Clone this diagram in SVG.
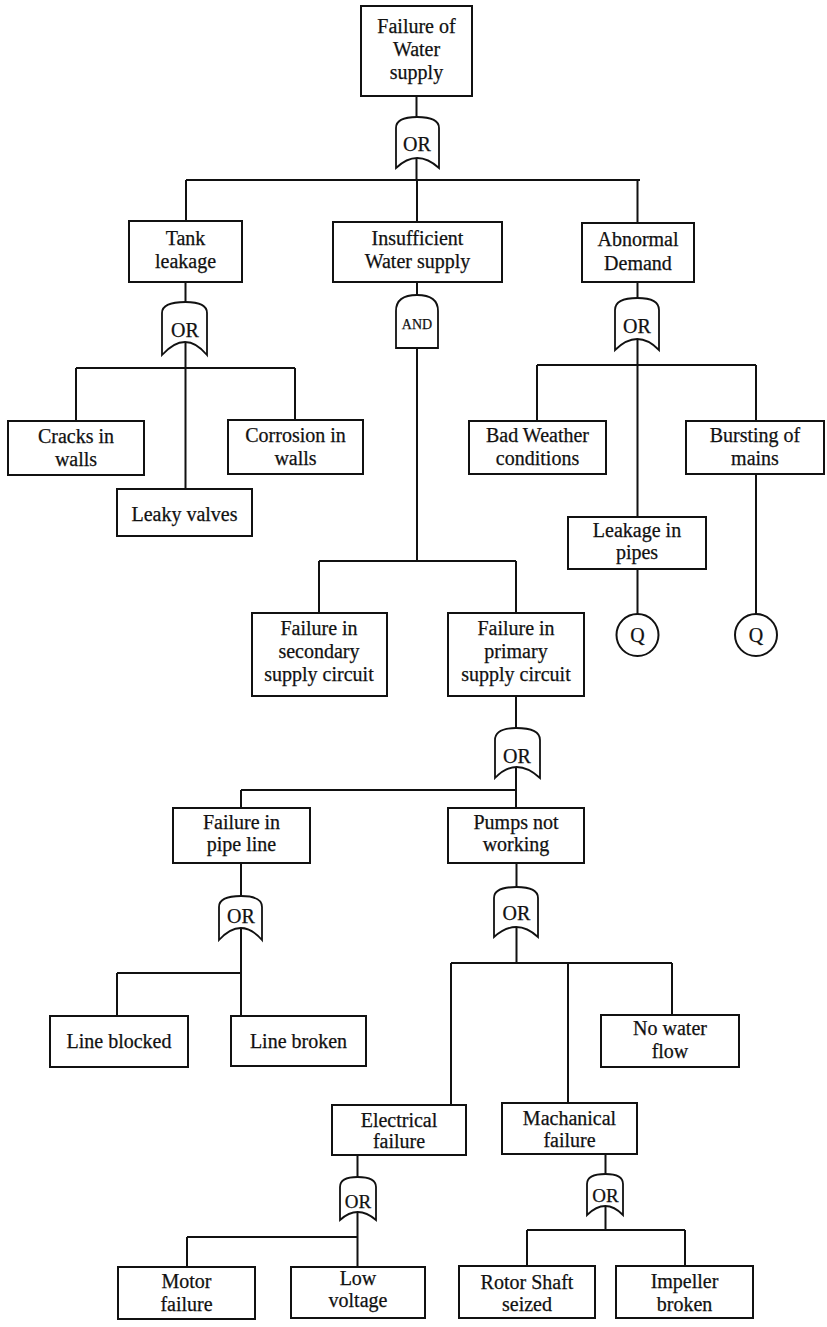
<svg xmlns="http://www.w3.org/2000/svg" width="827" height="1327" viewBox="0 0 827 1327">
<style>
.box{fill:#fff;stroke:#111;stroke-width:2}
.gate{fill:#fff;stroke:#111;stroke-width:1.8}
.ln{fill:none;stroke:#111;stroke-width:2}
text{font-family:"Liberation Serif","Times New Roman",serif;font-size:20px;fill:#111;text-anchor:middle;stroke:#111;stroke-width:0.25}
.g{font-size:20px}
.gs{font-size:19px}
.and{font-size:14px}
</style>
<rect width="827" height="1327" fill="#fff"/>
<g id="connectors" class="ln">
<path d="M416.5 96V117M416.5 158V180M186 180H640M186 180V221M417 180V222M637.5 180V223"/>
<path d="M185.5 282V302M185.5 342V489M76 368H295M76 368V421M295 368V420"/>
<path d="M417 282V295M417 348V561M319 561H516M319 561V613M516 561V613"/>
<path d="M637.5 282V298M637.5 339V517M537 365H756M537 365V421M756 365V421M756 474V614M637.5 569V614"/>
<path d="M516 696V728M516 767V808M241 790H516M241 790V808"/>
<path d="M241 863V896M241 928V1016M117 973H241M117 973V1016"/>
<path d="M516.5 863V887M516.5 927V963M451 963H672M451 963V1105M568 963V1103M672 963V1015"/>
<path d="M357.5 1155V1177M357.5 1212V1267M187 1237H357.5M187 1237V1267"/>
<path d="M605.5 1154V1174M605.5 1206V1230M527 1230H685M527 1230V1266M685 1230V1266"/>
</g>
<g id="n_top"><rect class="box" x="361" y="6" width="111" height="90"/><text x="416.5" y="33">Failure of</text><text x="416.5" y="56">Water</text><text x="416.5" y="79">supply</text></g>
<g id="g_top"><path class="gate" d="M396 168V128Q396 117 417 117Q439 117 439 128V168Q417 148 396 168Z"/><text class="g" x="417" y="151">OR</text></g>
<g id="n_tank"><rect class="box" x="129" y="221" width="113" height="61"/><text x="185.5" y="245">Tank</text><text x="185.5" y="268">leakage</text></g>
<g id="n_insuff"><rect class="box" x="333" y="222" width="169" height="60"/><text x="417.5" y="245">Insufficient</text><text x="417.5" y="268">Water supply</text></g>
<g id="n_abn"><rect class="box" x="582" y="223" width="112" height="59"/><text x="638" y="246">Abnormal</text><text x="638" y="270">Demand</text></g>
<g id="g_tank"><path class="gate" d="M162 355V313Q162 302 185.5 302Q207 302 207 313V355Q185.5 329 162 355Z"/><text class="g" x="185" y="337">OR</text></g>
<g id="g_and"><path class="gate" d="M396 348V311Q396 295 417 295Q438 295 438 311V348Z"/><text class="and" x="417" y="329">AND</text></g>
<g id="g_abn"><path class="gate" d="M615 350V310Q615 298 637.5 298Q659 298 659 310V350Q637.5 328 615 350Z"/><text class="g" x="637" y="333">OR</text></g>
<g id="n_cracks"><rect class="box" x="8" y="421" width="136" height="54"/><text x="76" y="443">Cracks in</text><text x="76" y="466">walls</text></g>
<g id="n_corr"><rect class="box" x="228" y="420" width="135" height="54"/><text x="295.5" y="442">Corrosion in</text><text x="295.5" y="465">walls</text></g>
<g id="n_leaky"><rect class="box" x="117" y="489" width="135" height="47"/><text x="184.5" y="521">Leaky valves</text></g>
<g id="n_bad"><rect class="box" x="469" y="421" width="137" height="53"/><text x="537.5" y="442">Bad Weather</text><text x="537.5" y="465">conditions</text></g>
<g id="n_burst"><rect class="box" x="686" y="421" width="138" height="53"/><text x="755" y="442">Bursting of</text><text x="755" y="465">mains</text></g>
<g id="n_leakpipe"><rect class="box" x="568" y="517" width="138" height="52"/><text x="637" y="537">Leakage in</text><text x="637" y="559">pipes</text></g>
<g id="q1"><circle class="box" cx="637.5" cy="635" r="21"/><text x="637.5" y="642">Q</text></g>
<g id="q2"><circle class="box" cx="756" cy="635" r="21"/><text x="756" y="642">Q</text></g>
<g id="n_sec"><rect class="box" x="252" y="613" width="135" height="83"/><text x="319" y="635">Failure in</text><text x="319" y="658">secondary</text><text x="319" y="681">supply circuit</text></g>
<g id="n_pri"><rect class="box" x="448" y="613" width="136" height="83"/><text x="516" y="635">Failure in</text><text x="516" y="658">primary</text><text x="516" y="681">supply circuit</text></g>
<g id="g_pri"><path class="gate" d="M495 778V740Q495 728 516 728Q540 728 540 740V778Q516 756 495 778Z"/><text class="g" x="517" y="763">OR</text></g>
<g id="n_pipe"><rect class="box" x="173" y="808" width="137" height="55"/><text x="241.5" y="829">Failure in</text><text x="241.5" y="851">pipe line</text></g>
<g id="n_pumps"><rect class="box" x="448" y="808" width="136" height="55"/><text x="516" y="829">Pumps not</text><text x="516" y="851">working</text></g>
<g id="g_pipe"><path class="gate" d="M219 940V907Q219 896 241 896Q262 896 262 907V940Q241 916 219 940Z"/><text class="g" x="241" y="923">OR</text></g>
<g id="g_pumps"><path class="gate" d="M494 937V898Q494 887 516.5 887Q538 887 538 898V937Q516.5 917 494 937Z"/><text class="g" x="516.5" y="920">OR</text></g>
<g id="n_blocked"><rect class="box" x="50" y="1016" width="138" height="51"/><text x="119" y="1048">Line blocked</text></g>
<g id="n_broken"><rect class="box" x="231" y="1016" width="135" height="50"/><text x="298.5" y="1048">Line broken</text></g>
<g id="n_nowater"><rect class="box" x="601" y="1015" width="138" height="52"/><text x="670" y="1035">No water</text><text x="670" y="1058">flow</text></g>
<g id="n_elec"><rect class="box" x="332" y="1105" width="134" height="50"/><text x="399" y="1127">Electrical</text><text x="399" y="1148">failure</text></g>
<g id="n_mech"><rect class="box" x="502" y="1103" width="135" height="51"/><text x="569.5" y="1125">Machanical</text><text x="569.5" y="1147">failure</text></g>
<g id="g_elec"><path class="gate" d="M340 1220V1187Q340 1177 357.5 1177Q376 1177 376 1187V1220Q357.5 1204 340 1220Z"/><text class="gs" x="358" y="1208">OR</text></g>
<g id="g_mech"><path class="gate" d="M587 1215V1184Q587 1174 605.5 1174Q623 1174 623 1184V1215Q605.5 1197 587 1215Z"/><text class="gs" x="605.5" y="1202">OR</text></g>
<g id="n_motor"><rect class="box" x="118" y="1267" width="137" height="52"/><text x="186.5" y="1288">Motor</text><text x="186.5" y="1311">failure</text></g>
<g id="n_low"><rect class="box" x="291" y="1267" width="134" height="51"/><text x="358" y="1285">Low</text><text x="358" y="1307">voltage</text></g>
<g id="n_rotor"><rect class="box" x="459" y="1266" width="136" height="52"/><text x="527" y="1289">Rotor Shaft</text><text x="527" y="1311">seized</text></g>
<g id="n_imp"><rect class="box" x="616" y="1266" width="137" height="52"/><text x="684.5" y="1288">Impeller</text><text x="684.5" y="1311">broken</text></g>
</svg>
